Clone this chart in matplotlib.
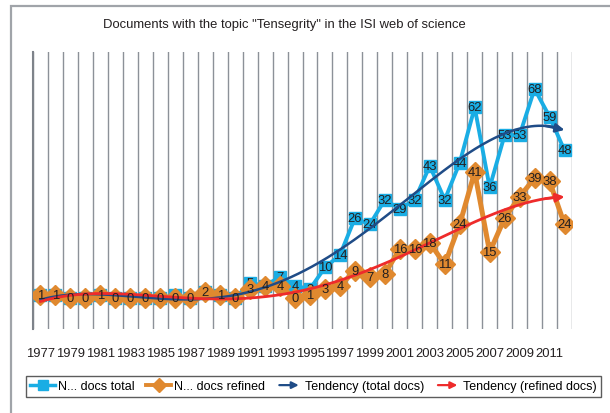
import numpy as np
import matplotlib
matplotlib.use("Agg")
import matplotlib.pyplot as plt
from matplotlib.patches import FancyArrowPatch, Rectangle
from matplotlib.legend_handler import HandlerBase
from matplotlib.lines import Line2D

plt.rcParams['font.family'] = ['Liberation Sans', 'DejaVu Sans']

# data
years = list(range(1977, 2013))
total = [1, 1, 0, 0, 1, 0, 0, 0, 0, 1, 0, 2, 1, 0,
         5, 4, 7, 4, 3, 10, 14, 26, 24, 32, 29, 32, 43, 32, 44, 62, 36, 53, 53, 68, 59, 48]
refined = [1, 1, 0, 0, 1, 0, 0, 0, 0, 0, 0, 2, 1, 0,
           3, 4, 4, 0, 1, 3, 4, 9, 7, 8, 16, 16, 18, 11, 24, 41, 15, 26, 33, 39, 38, 24]
title = 'Documents with the topic "Tensegrity" in the ISI web of science'

c_total = '#1AADE4'
c_ref = '#E0892F'
c_trend_t = '#1F4C87'
c_trend_r = '#EE2B2B'
c_grid = '#8C9198'
c_text = '#231F20'
fs = 9.4

x = np.arange(len(years))

fig = plt.figure(figsize=(6.1, 4.14), dpi=100)
ax = fig.add_axes([33 / 610, 1 - 330 / 414, (572 - 33) / 610, (330 - 53) / 414])

# outer frame
fig.patches.append(Rectangle((11 / 610, -0.1), 1.2, 1.1 - 7 / 414,
                             transform=fig.transFigure, fill=False,
                             ec='#A0A4A9', lw=1.6, zorder=0))

# series
ax.plot(x, total, color=c_total, lw=2.8, marker='s', ms=8.5, zorder=3)
for xi, v in zip(x, total):
    ax.text(xi, v, str(v), ha='center', va='center', fontsize=fs, color=c_text, zorder=3.5)

ax.plot(x, refined, color=c_ref, lw=3.6, marker='D', ms=10, zorder=4)
for xi, v in zip(x, refined):
    ax.text(xi, v, str(v), ha='center', va='center', fontsize=fs, color=c_text, zorder=6)

# polynomial trend lines
xs = np.linspace(0, len(years) - 1, 300)
pt = np.polyfit(x, total, 4)
pr = np.polyfit(x, refined, 4)
yt = np.polyval(pt, xs)
yr = np.polyval(pr, xs)
ax.plot(xs[:-3], yt[:-3], color=c_trend_t, lw=1.8, zorder=5)
ax.plot(xs[:-3], yr[:-3], color=c_trend_r, lw=2.0, zorder=5)
for yy, cc in ((yt, c_trend_t), (yr, c_trend_r)):
    ax.annotate('', xy=(xs[-1], yy[-1]), xytext=(xs[-12], yy[-12]),
                arrowprops=dict(arrowstyle='-|>', color=cc, lw=1.8,
                                mutation_scale=13, shrinkA=0, shrinkB=0),
                zorder=5)

ax.set_xlim(-0.5, len(years) - 0.5)
ax.set_ylim(-10, 80)
ax.set_xticks(x[::2])
ax.set_xticklabels([str(y) for y in years[::2]], fontsize=fs, color=c_text)
ax.set_xticks(np.arange(-0.5, len(years)), minor=True)
ax.tick_params(axis='x', which='both', length=0, pad=13)
ax.grid(which='minor', axis='x', color=c_grid, lw=1)
ax.set_yticks([])
for s in ('top', 'right', 'bottom'):
    ax.spines[s].set_visible(False)
ax.spines['left'].set_color('#7E838A')
ax.spines['left'].set_linewidth(1.5)

fig.text(0.467, 1 - 25 / 414, title, ha='center', va='center', fontsize=fs, color=c_text)


class ArrowHandler(HandlerBase):
    def create_artists(self, legend, orig_handle, xdescent, ydescent,
                       width, height, fontsize, trans):
        y = height / 2 - ydescent
        a = FancyArrowPatch((-xdescent, y), (-xdescent + width, y),
                            arrowstyle='-|>', mutation_scale=10,
                            color=orig_handle.get_color(), lw=1.6,
                            transform=trans)
        return [a]


h1 = Line2D([], [], color=c_total, lw=2.5, marker='s', ms=6.5)
h2 = Line2D([], [], color=c_ref, lw=2.8, marker='D', ms=7)
h3 = Line2D([], [], color=c_trend_t)
h4 = Line2D([], [], color=c_trend_r)
leg = fig.legend([h1, h2, h3, h4],
                 ['N... docs total', 'N... docs refined', 'Tendency (total docs)',
                  'Tendency (refined docs)'],
                 handler_map={h3: ArrowHandler(), h4: ArrowHandler()},
                 loc='center', bbox_to_anchor=(0.514, 1 - 387.5 / 414),
                 ncol=4, fontsize=9, frameon=True, fancybox=False,
                 edgecolor='#333333', handlelength=2.0, handletextpad=0.25,
                 columnspacing=0.9, borderpad=0.35, borderaxespad=0)
leg.get_frame().set_linewidth(1.0)

fig.savefig('out.png', dpi=100)
